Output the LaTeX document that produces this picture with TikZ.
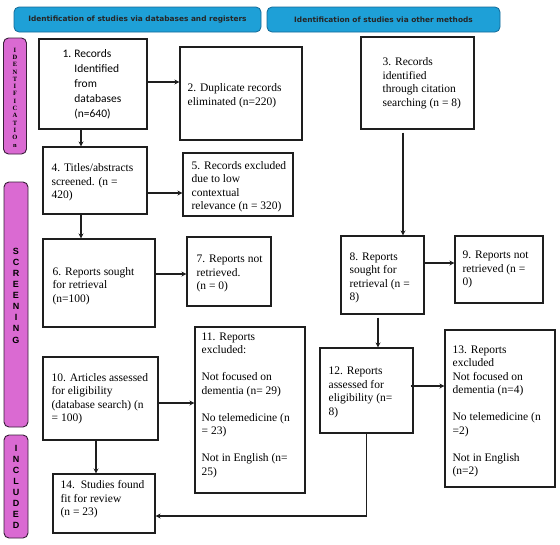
\documentclass[tikz,border=0pt]{standalone}
\usepackage{fontspec}
\setmainfont{Liberation Serif}
\newfontfamily\carl{Carlito}
\newfontfamily\hdr{DejaVu Sans}
\newfontfamily\arl{Liberation Sans}
\usetikzlibrary{arrows.meta}
\definecolor{hdrblue}{RGB}{30,160,215}
\definecolor{hdredge}{RGB}{20,105,150}
\definecolor{sidefill}{RGB}{218,106,210}
\definecolor{sideedge}{RGB}{55,30,55}
\definecolor{lin}{RGB}{30,30,30}
\tikzset{
 boxst/.style={draw=lin, line width=1.1pt, inner sep=0pt},
 txt/.style={align=left, inner sep=0pt, font=\fontsize{11.5}{13.5}\selectfont},
 arr/.style={draw=lin, line width=1.1pt, -{Stealth[length=5pt,width=5pt]}},
 hdrst/.style={draw=hdredge, fill=hdrblue, rounded corners=5pt, line width=0.8pt, inner sep=0pt,
   font=\hdr\bfseries\fontsize{7.4}{9}\selectfont, text=black!85},
 sidest/.style={draw=sideedge, fill=sidefill, rounded corners=5pt, line width=0.9pt, inner sep=0pt},
 sidetxt/.style={align=center, inner sep=0pt},
}
\newcommand\pbox[8]{%
 \node[boxst, minimum width={(#4-#2)*1pt}, minimum height={(#5-#3)*1pt}] (#1) at ({(#2+#4)/2},{(#3+#5)/2}) {};
 \node[txt, anchor=west] (#1t) at ([xshift=#6pt,yshift=-#7pt]#1.west) {#8};
}
\begin{document}
\begin{tikzpicture}[x=1pt,y=-1pt]
\useasboundingbox (0,0) rectangle (560,544);
% headers
\node[hdrst, minimum width=247pt, minimum height=25pt] (h1) at (137.5,19.5) {Identification of studies via databases and registers};
\node[hdrst, minimum width=233pt, minimum height=25pt] (h2) at (383.5,19.5) {Identification of studies via other methods};
% side bars
\node[sidest, minimum width=23pt, minimum height=116pt] (s1) at (15,96) {};
\node[sidetxt, font=\bfseries\fontsize{6.5}{7.3}\selectfont] (s1t) at (15,97.5) {I\\D\\E\\N\\T\\I\\F\\I\\C\\A\\T\\I\\O\\n};
\node[sidest, minimum width=24pt, minimum height=245pt] (s2) at (16,304.5) {};
\node[sidetxt, font=\arl\bfseries\fontsize{9}{11.1}\selectfont] (s2t) at (16,295.5) {S\\C\\R\\E\\E\\N\\I\\N\\G};
\node[sidest, minimum width=24pt, minimum height=103pt] (s3) at (16,486.5) {};
\node[sidetxt, font=\arl\bfseries\fontsize{9}{10.9}\selectfont] (s3t) at (16,487) {I\\N\\C\\L\\U\\D\\E\\D};
% boxes
\pbox{b1}{39}{39}{147}{129}{24}{0}{\carl\fontsize{11.5}{15}\selectfont\begin{tabular}{@{}l@{\hspace{3pt}}l@{}}1.&Records\\&Identified\\&from\\&databases\\&(n=640)\end{tabular}}
\pbox{b2}{180}{47}{302}{140}{8}{2}{2. Duplicate records\\eliminated (n=220)}
\pbox{b3}{361}{37}{474}{129}{22}{0}{3. Records\\identified\\through citation\\searching (n = 8)}
\pbox{b4}{43}{147}{147}{214}{9}{2}{4. Titles/abstracts\\screened. (n =\\420)}
\pbox{b5}{183}{153}{293}{216}{9}{2}{5. Records excluded\\due to low\\contextual\\relevance (n = 320)}
\pbox{b6}{43}{239}{155}{327}{10}{3}{6. Reports sought\\for retrieval\\(n=100)}
\pbox{b7}{187}{237}{271}{306}{10}{2}{7. Reports not\\retrieved.\\(n = 0)}
\pbox{b8}{341}{236}{424}{314}{9}{3}{8. Reports\\sought for\\retrieval (n =\\8)}
\pbox{b9}{455}{236}{543}{303}{8}{0}{9. Reports not\\retrieved (n =\\0)}
\pbox{b10}{43}{357}{158}{440}{9}{0}{10. Articles assessed\\for eligibility\\(database search) (n\\= 100)}
\pbox{b11}{195}{327}{305}{493}{7}{-5}{11. Reports\\excluded:\\[13.5pt]Not focused on\\dementia (n= 29)\\[13.5pt]No telemedicine (n\\= 23)\\[13.5pt]Not in English (n=\\25)}
\pbox{b12}{320}{348}{413}{433}{9}{2}{12. Reports\\assessed for\\eligibility (n=\\8)}
\pbox{b13}{445}{330}{555}{487}{8}{3}{13. Reports\\excluded\\Not focused on\\dementia (n=4)\\[13.5pt]No telemedicine (n\\=2)\\[13.5pt]Not in English\\(n=2)}
\pbox{b14}{53}{474}{155}{533}{8}{-4}{14.\ \ Studies found\\fit for review\\(n = 23)}
% connectors
\draw[arr] ([yshift=2pt]b1.east) coordinate (c12) -- (c12 -| b2.west);
\draw[arr] ([xshift=-12pt]b1.south) coordinate (c14) -- (c14 |- b4.north);
\draw[arr] ([yshift=-12.5pt]b4.east) coordinate (c45) -- (c45 -| b5.west);
\draw[arr] ([xshift=-14pt]b4.south) coordinate (c46) -- (c46 |- b6.north);
\draw[arr] ([yshift=9pt]b6.east) coordinate (c67) -- (c67 -| b7.west);
\draw[arr] ([xshift=-14.5pt,yshift=-3pt]b3.south) coordinate (c38) -- (c38 |- b8.north);
\draw[arr] ([yshift=12pt]b8.east) coordinate (c89) -- (c89 -| b9.west);
\draw[arr] ([xshift=-4.5pt,yshift=-3pt]b8.south) coordinate (c812) -- (c812 |- b12.north);
\draw[arr] ([yshift=-4.5pt]b10.east) coordinate (c1011) -- (c1011 -| b11.west);
\draw[arr] ([xshift=-3pt,yshift=4.5pt]b12.east) coordinate (c1213) -- (c1213 -| b13.west);
\draw[arr] ([xshift=-4.5pt]b10.south) coordinate (c1014) -- (c1014 |- b14.north);
\draw[arr] (b12.south) |- ([yshift=-12.5pt]b14.east);
\end{tikzpicture}
\end{document}
